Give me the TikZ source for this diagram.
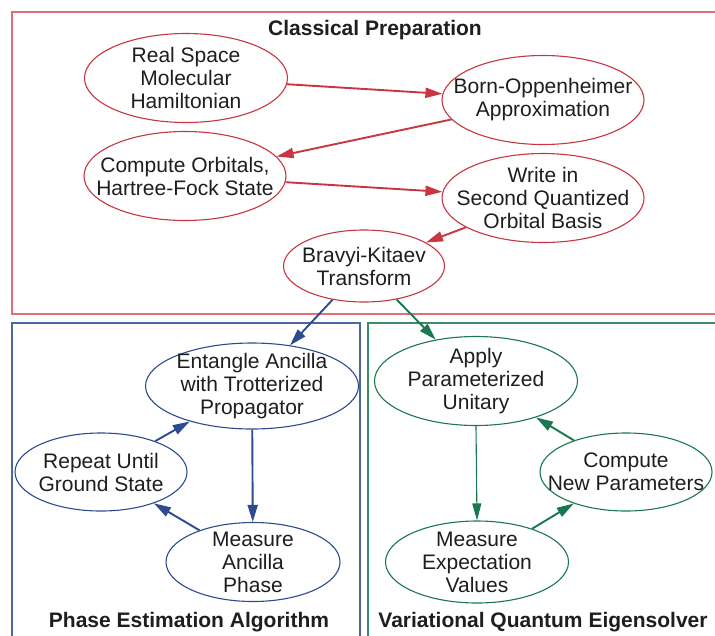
\documentclass[tikz,border=0pt]{standalone}
\usepackage{fontspec}
\setmainfont{Liberation Sans}
\usetikzlibrary{shapes.geometric,arrows.meta}
\definecolor{redl}{RGB}{200,55,65}
\definecolor{redbox}{RGB}{228,110,120}
\definecolor{bluel}{RGB}{45,75,145}
\definecolor{greenl}{RGB}{25,120,80}
\definecolor{txtc}{RGB}{30,30,30}
\begin{document}
\begin{tikzpicture}[x=1pt,y=-1pt,
  ell/.style={draw=#1, ellipse, line width=1.1pt, inner sep=0pt},
  txt/.style={align=center, font=\fontsize{21}{23}\selectfont, text=txtc},
  ttl/.style={align=center, font=\fontsize{21}{24}\selectfont\bfseries, text=txtc},
  arr/.style={draw=#1, line width=1.9pt, -{Triangle[length=17pt,width=10pt]}},
  thinarr/.style={draw=#1, line width=1.1pt, -{Triangle[length=17pt,width=9pt]}},
  frame/.style={draw=#1, line width=1.4pt}]
\useasboundingbox (0,0) rectangle (715,635);
\fill[white] (0,0) rectangle (715,635);

% frames
\draw[frame=redbox] (12,12) rectangle (722,314);
\draw[frame=bluel!85] (12,323) rectangle (360,645);
\draw[frame=greenl!85] (368,323) rectangle (722,645);

\node[ttl] (tcp) at (375,30) {Classical Preparation};
\node[ttl] (tpe) at (189,622) {Phase Estimation Algorithm};
\node[ttl] (tvq) at (543,622) {Variational Quantum Eigensolver};

% classical preparation
\node[ell=redl, minimum width=203, minimum height=89] (rs) at (186,78) {};
\node[txt] (rst) at (rs) {Real Space\\Molecular\\Hamiltonian};
\node[ell=redl, minimum width=202, minimum height=89] (bo) at (543,100) {};
\node[txt] (bot) at (bo) {Born-Oppenheimer\\Approximation};
\node[ell=redl, minimum width=202, minimum height=89] (co) at (185,176) {};
\node[txt] (cot) at (co) {Compute Orbitals,\\Hartree-Fock State};
\node[ell=redl, minimum width=202, minimum height=89] (wi) at (543,198) {};
\node[txt] (wit) at (wi) {Write in\\Second Quantized\\Orbital Basis};
\node[ell=redl, minimum width=161, minimum height=72] (bk) at (364,266) {};
\node[txt] (bkt) at (bk) {Bravyi-Kitaev\\Transform};

% phase estimation
\node[ell=bluel, minimum width=213, minimum height=86] (en) at (252,386) {};
\node[txt] (ent) at (en) {Entangle Ancilla\\with Trotterized\\Propagator};
\node[ell=bluel, minimum width=172, minimum height=78] (rp) at (101,472) {};
\node[txt] (rpt) at (rp) {Repeat Until\\Ground State};
\node[ell=bluel, minimum width=174, minimum height=79] (ma) at (253,562) {};
\node[txt] (mat) at (ma) {Measure\\Ancilla\\Phase};

% VQE
\node[ell=greenl, minimum width=203, minimum height=89] (ap) at (476,381) {};
\node[txt] (apt) at (ap) {Apply\\Parameterized\\Unitary};
\node[ell=greenl, minimum width=172, minimum height=78] (cn) at (626,472) {};
\node[txt] (cnt) at (cn) {Compute\\New Parameters};
\node[ell=greenl, minimum width=183, minimum height=82] (me) at (477,562) {};
\node[txt] (met) at (me) {Measure\\Expectation\\Values};

% arrows
\draw[arr=redl] (rs) -- (bo);
\draw[arr=redl] (bo) -- (co);
\draw[arr=redl] (co) -- (wi);
\draw[arr=redl] (wi) -- (bk);
\draw[arr=bluel] (bk) -- (en);
\draw[arr=greenl] (bk) -- (ap);
\draw[arr=bluel] (en) -- (ma);
\draw[arr=bluel] (ma) -- (rp);
\draw[arr=bluel] (rp) -- (en);
\draw[thinarr=greenl] (ap.south) -- (me.north);
\draw[arr=greenl] (me) -- (cn);
\draw[arr=greenl] (cn) -- (ap);
\end{tikzpicture}
\end{document}
